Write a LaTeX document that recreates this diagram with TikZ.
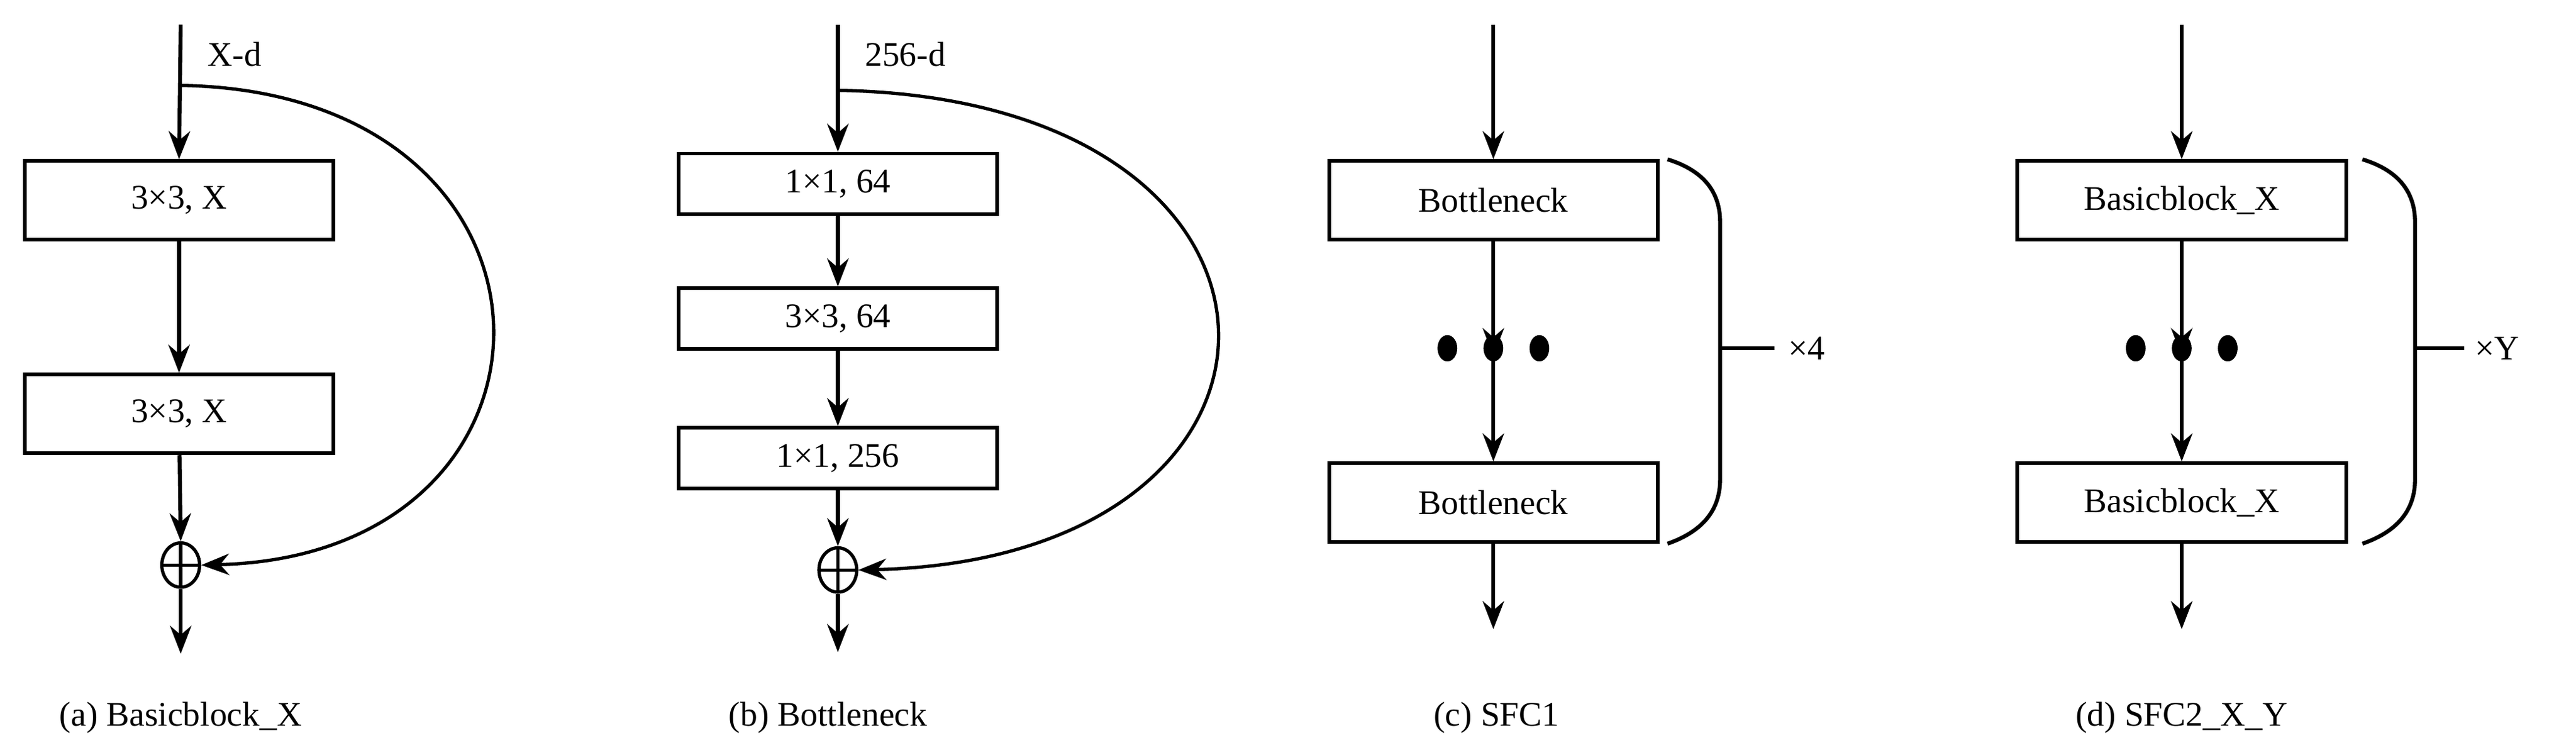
\documentclass[tikz,border=0pt]{standalone}
\usepackage{fontspec}
\setmainfont{Liberation Serif}
\usetikzlibrary{arrows.meta,shapes.geometric}
\begin{document}
\begin{tikzpicture}[x=1pt,y=-1pt,line width=2.4pt,
  box/.style={draw,minimum width=188pt,minimum height=48pt,inner sep=0pt,font=\fontsize{21}{24}\selectfont,line width=2.2pt},
  sbox/.style={draw,minimum width=194pt,minimum height=37pt,inner sep=0pt,font=\fontsize{21}{24}\selectfont,line width=2.2pt},
  cbox/.style={draw,minimum width=200pt,minimum height=48pt,inner sep=0pt,font=\fontsize{21}{24}\selectfont,line width=2.2pt},
  plus/.style={draw,ellipse,minimum width=23pt,minimum height=27pt,inner sep=0pt,line width=2pt,
    path picture={\draw[line width=2pt] (path picture bounding box.north)--(path picture bounding box.south) (path picture bounding box.west)--(path picture bounding box.east);}},
  arr/.style={-{Stealth[length=17pt,width=13pt]}},
  captxt/.style={font=\fontsize{21}{24}\selectfont},
  lab/.style={font=\fontsize{21}{24}\selectfont,anchor=west},
  dot/.style={fill,ellipse,minimum width=12pt,minimum height=16pt,inner sep=0pt}]
\useasboundingbox (0,0) rectangle (1568,458.4);
% (a)
\coordinate (a0) at (110,15);
\coordinate (as) at (110,52);
\node[box] (a1) at (109,122) {3×3, X};
\node[box] (a2) at (109,252) {3×3, X};
\node[plus] (ap) at (110,344) {};
\coordinate (ae) at (110,398);
\node[lab] (al) at (122,33) {X-d};
\draw[arr] (a0) -- (a1.north);
\draw[arr] (a1) -- (a2.north);
\draw[arr] (a2) -- (ap.north);
\draw[arr] (ap) -- (ae);
\draw[arr,line width=2pt] (as) .. controls (360,56) and (360,338) .. (ap.east);
\node[captxt] (ac) at (110,437) {(a) Basicblock\_X};
% (b)
\coordinate (b0) at (510,15);
\coordinate (bs) at (510,55);
\node[sbox] (b1) at (510,112) {1×1, 64};
\node[sbox] (b2) at (510,194) {3×3, 64};
\node[sbox] (b3) at (510,279) {1×1, 256};
\node[plus] (bp) at (510,347) {};
\coordinate (be) at (510,397);
\node[lab] (bl) at (522,33) {256-d};
\draw[arr] (b0) -- (b1.north);
\draw[arr] (b1) -- (b2.north);
\draw[arr] (b2) -- (b3.north);
\draw[arr] (b3) -- (bp.north);
\draw[arr] (bp) -- (be);
\draw[arr,line width=2pt] (bs) .. controls (815,60) and (815,340) .. (bp.east);
\node[captxt] (bc) at (504,437) {(b) Bottleneck};
% (c)
\coordinate (c0) at (909,15);
\node[cbox] (c1) at (909,122) {Bottleneck};
\node[dot] (cd1) at (881,212) {};
\node[dot] (cd2) at (909,212) {};
\node[dot] (cd3) at (937,212) {};
\node[cbox] (c2) at (909,306) {Bottleneck};
\coordinate (ce) at (909,383);
\coordinate (cb1) at (1015,97);
\coordinate (cb2) at (1015,331);
\coordinate (cm) at (1047,212);
\coordinate (ct) at (1080,212);
\node[lab] (cx) at (1084,212) {×4};
\draw[arr] (c0) -- (c1.north);
\draw[arr] (c1) -- ([yshift=-14pt]cd2.north);
\draw[arr] ([yshift=14pt]cd2.south) -- (c2.north);
\draw[arr] (c2) -- (ce);
\draw (cb1) .. controls (1038,104) and (1047,118) .. (1047,135) -- (1047,292) .. controls (1047,309) and (1038,323) .. (cb2);
\draw (cm) -- (ct);
\node[captxt] (cc) at (911,437) {(c) SFC1};
% (d)
\coordinate (d0) at (1328,15);
\node[cbox] (d1) at (1328,122) {Basicblock\_X};
\node[dot] (dd1) at (1300,212) {};
\node[dot] (dd2) at (1328,212) {};
\node[dot] (dd3) at (1356,212) {};
\node[cbox] (d2) at (1328,306) {Basicblock\_X};
\coordinate (de) at (1328,383);
\coordinate (db1) at (1438,97);
\coordinate (db2) at (1438,331);
\coordinate (dm) at (1470,212);
\coordinate (dt) at (1500,212);
\node[lab] (dx) at (1502,212) {×Y};
\draw[arr] (d0) -- (d1.north);
\draw[arr] (d1) -- ([yshift=-14pt]dd2.north);
\draw[arr] ([yshift=14pt]dd2.south) -- (d2.north);
\draw[arr] (d2) -- (de);
\draw (db1) .. controls (1461,104) and (1470,118) .. (1470,135) -- (1470,292) .. controls (1470,309) and (1461,323) .. (db2);
\draw (dm) -- (dt);
\node[captxt] (dc) at (1328,437) {(d) SFC2\_X\_Y};
\end{tikzpicture}
\end{document}
